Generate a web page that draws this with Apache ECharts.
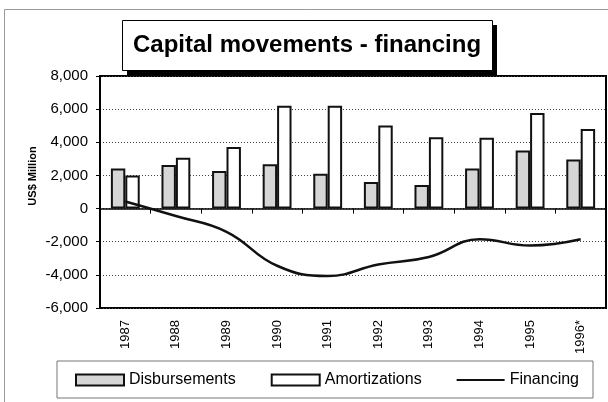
<!DOCTYPE html>
<html>
<head>
<meta charset="utf-8">
<script src="https://cdn.jsdelivr.net/npm/echarts@6/dist/echarts.min.js"></script>
<style>
  html, body { margin: 0; padding: 0; background: #fff; }
  #chart { width: 608px; height: 402px; }
</style>
</head>
<body>
<div id="chart"></div>
<script>
const years = ['1987', '1988', '1989', '1990', '1991', '1992', '1993', '1994', '1995', '1996*']
const disbursements = [2420, 2630, 2270, 2670, 2100, 1600, 1420, 2420, 3500, 2960]
const amortizations = [2000, 3060, 3720, 6200, 6200, 5010, 4310, 4280, 5760, 4800]
const financing = [430, -450, -1400, -3450, -4070, -3380, -2920, -1850, -2230, -1850]

const font = '"Liberation Sans", Arial, sans-serif'

const myChart = echarts.init(document.getElementById('chart'))

const option = {
  animation: false,
  textStyle: { fontFamily: font, color: '#000' },
  title: {
    text: 'Capital movements - financing',
    left: 133,
    top: 33,
    padding: 0,
    z: 10,
    textStyle: { fontFamily: font, fontSize: 24, fontWeight: 'bold', color: '#000' }
  },
  graphic: [
    {
      type: 'rect',
      z: -10,
      silent: true,
      shape: { x: 4.5, y: 9.5, width: 700, height: 500 },
      style: { fill: 'none', stroke: '#999', lineWidth: 1 }
    },
    // title box with its drop shadow
    {
      type: 'rect',
      z: 8,
      silent: true,
      shape: { x: 127, y: 25, width: 370, height: 51 },
      style: { fill: '#000' }
    },
    {
      type: 'rect',
      z: 9,
      silent: true,
      shape: { x: 122.5, y: 20.5, width: 370, height: 50 },
      style: { fill: '#fff', stroke: '#000', lineWidth: 1 }
    },
    {
      type: 'text',
      x: 33,
      y: 176,
      rotation: Math.PI / 2,
      style: {
        text: 'US$ Million',
        font: 'bold 11px "Liberation Sans Narrow", "Liberation Sans", Arial, sans-serif',
        fill: '#000',
        align: 'center',
        verticalAlign: 'middle'
      }
    }
  ],
  legend: {
    left: 57,
    top: 361,
    padding: [11, 14, 10, 18],
    itemGap: 35,
    itemWidth: 48,
    itemHeight: 11,
    borderColor: '#777',
    borderWidth: 1,
    textStyle: { fontFamily: font, fontSize: 16, color: '#000' },
    data: [
      { name: 'Disbursements', icon: 'rect' },
      { name: 'Amortizations', icon: 'rect' },
      { name: 'Financing', icon: 'path://M0,0 M48,11 M0,4.5 L48,4.5 L48,6.5 L0,6.5 Z' }
    ]
  },
  grid: {
    left: 100,
    right: 2,
    top: 76,
    bottom: 94,
    show: true,
    backgroundColor: '#fff',
    borderColor: '#000',
    borderWidth: 2
  },
  xAxis: [
    {
      type: 'category',
      data: years,
      position: 'bottom',
      axisLine: { show: false, onZero: false },
      axisTick: { show: false },
      axisLabel: { rotate: 90, fontSize: 13, margin: 12, color: '#000', fontFamily: font }
    },
    {
      type: 'category',
      data: years,
      position: 'bottom',
      axisLine: { show: true, onZero: true, lineStyle: { color: '#000', width: 1.5 } },
      axisTick: { show: true, length: 5, lineStyle: { color: '#000', width: 1 } },
      axisLabel: { show: false }
    }
  ],
  yAxis: {
    type: 'value',
    min: -6000,
    max: 8000,
    interval: 2000,
    axisLine: { show: true, lineStyle: { color: '#000', width: 2 } },
    axisTick: { show: true, length: 4, lineStyle: { color: '#000' } },
    axisLabel: {
      fontSize: 15,
      margin: 12,
      color: '#000',
      fontFamily: font,
      formatter: (v) => v.toLocaleString('en-US')
    },
    splitLine: { show: true, lineStyle: { color: '#444', width: 1, type: [1, 2] } }
  },
  series: [
    {
      name: 'Disbursements',
      type: 'bar',
      xAxisIndex: 0,
      data: disbursements,
      barGap: '0%',
      barCategoryGap: '43%',
      itemStyle: { color: '#d6d6d6', borderColor: '#111', borderWidth: 2 }
    },
    {
      name: 'Amortizations',
      type: 'bar',
      xAxisIndex: 0,
      data: amortizations,
      barGap: '0%',
      barCategoryGap: '43%',
      itemStyle: { color: '#fff', borderColor: '#111', borderWidth: 2 }
    },
    {
      name: 'Financing',
      type: 'line',
      xAxisIndex: 0,
      data: financing,
      smooth: 0.45,
      symbol: 'none',
      z: 5,
      lineStyle: { color: '#111', width: 2.5 },
      itemStyle: { color: '#111' }
    }
  ]
}

myChart.setOption(option)
</script>
</body>
</html>
